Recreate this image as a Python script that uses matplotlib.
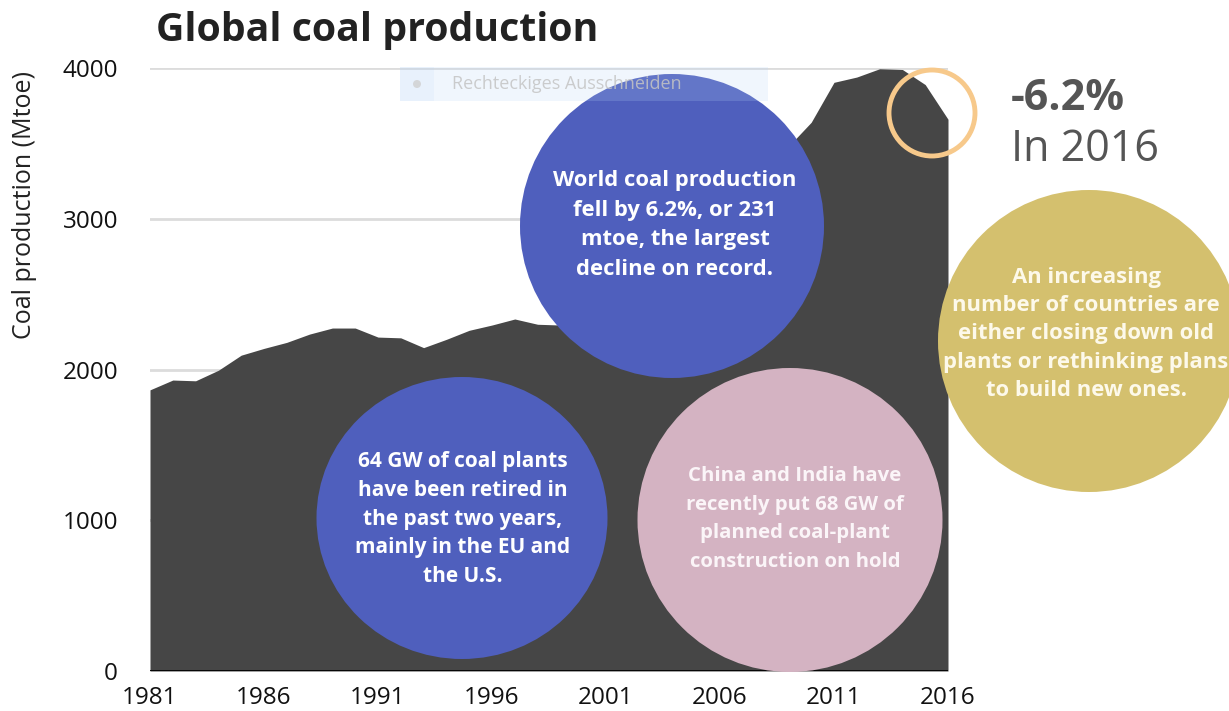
import numpy as np
import matplotlib
matplotlib.use("Agg")
import matplotlib.pyplot as plt
from matplotlib.patches import Ellipse, Rectangle, Circle

# Global coal production, Mtoe
years = np.arange(1981, 2017)
production = [1865, 1930, 1925, 1995, 2095, 2140, 2180, 2235, 2275, 2275,
              2215, 2210, 2145, 2200, 2260, 2295, 2335, 2300, 2295, 2320,
              2430, 2470, 2650, 2880, 3050, 3220, 3350, 3450, 3480, 3640,
              3905, 3940, 3995, 3990, 3890, 3660]
xticks = [1981, 1986, 1991, 1996, 2001, 2006, 2011, 2016]
yticks = [0, 1000, 2000, 3000, 4000]

# annotation bubbles
bubble_texts = [
    "World coal production\nfell by 6.2%, or 231\nmtoe, the largest\ndecline on record.",
    "64 GW of coal plants\nhave been retired in\nthe past two years,\nmainly in the EU and\nthe U.S.",
    "China and India have\nrecently put 68 GW of\nplanned coal-plant\nconstruction on hold",
    "An increasing\nnumber of countries are\neither closing down old\nplants or rethinking plans\nto build new ones.",
]

W, H = 1229, 711
fig = plt.figure(figsize=(W / 100, H / 100), dpi=100)

# main chart axes, placed in pixels
x0, x1, y0, y1 = 150, 948, 671, 68
ax = fig.add_axes([x0 / W, (H - y0) / H, (x1 - x0) / W, (y0 - y1) / H])
ax.fill_between(years, production, 0, color="#464646", lw=0, zorder=2)
ax.set_xlim(1981, 2016)
ax.set_ylim(0, 4000)
ax.set_xticks(xticks)
ax.set_yticks(yticks)
for v in yticks[1:]:
    ax.axhline(v, color="#dcdcdc", lw=2, zorder=1)
ax.axhline(0, color="black", lw=2, zorder=3)
for s in ax.spines.values():
    s.set_visible(False)
ax.tick_params(length=0, labelsize=17.5, colors="#111111")
ax.tick_params(axis="y", pad=23)
ax.tick_params(axis="x", pad=11)
for lab in ax.get_xticklabels() + ax.get_yticklabels():
    lab.set_fontfamily("Open Sans")

# overlay in pixel coordinates for title and bubbles
ov = fig.add_axes([0, 0, 1, 1], zorder=5)
ov.set_xlim(0, W)
ov.set_ylim(H, 0)
ov.axis("off")

ov.text(156, 31, "Global coal production", fontsize=28.3, fontweight="bold",
        family="Open Sans", color="#222222", va="center", ha="left")
ov.text(25, 205, "Coal production (Mtoe)", fontsize=18, family="Open Sans",
        color="#222222", rotation=90, va="center", ha="center")

# bubbles: (cx, cy, w, h, color, text color, fontsize, linespacing)
bubbles = [
    (672, 226, 304, 304, "#4f5fbd", "white", 15.8, 1.56),
    (462, 518, 291, 282, "#4f5fbd", "white", 15, 1.49),
    (790, 520, 305, 304, "#d4b3c2", "#fbf5f8", 14.7, 1.58),
    (1089, 341, 302, 302, "#d4c06e", "#fdf9ea", 15.8, 1.45),
]
for (cx, cy, w, h, fc, tc, fs, lsp), txt in zip(bubbles, bubble_texts):
    ov.add_patch(Ellipse((cx, cy), w, h, facecolor=fc, edgecolor="none"))
ty = [225, 519, 519, 334]
tx = [675, 463, 795, 1086]
for (cx, cy, w, h, fc, tc, fs, lsp), txt, xx, yy in zip(bubbles, bubble_texts, tx, ty):
    ov.text(xx, yy, txt, ha="center", va="center", color=tc, fontsize=fs,
            fontweight="bold", family="Open Sans", linespacing=lsp,
            multialignment="center")

# ring highlighting the 2016 drop
ov.add_patch(Circle((932, 113), 43, facecolor="none", edgecolor="#f7c98b", lw=3.5))
ov.text(1011, 99, "-6.2%", fontsize=31, fontweight="bold", family="Open Sans",
        color="#555555", va="center", ha="left")
ov.text(1011, 150, "In 2016", fontsize=31, family="Open Sans",
        color="#555555", va="center", ha="left")

# leftover screen-clipping tooltip
ov.add_patch(Rectangle((400, 67), 368, 34, facecolor="#b5d3f7", alpha=0.2,
                       edgecolor="none"))
ov.add_patch(Rectangle((400, 67), 34, 34, facecolor="#b5d3f7", alpha=0.12,
                       edgecolor="none"))
ov.add_patch(Circle((417, 84), 4, facecolor="#d0d0d0", edgecolor="none", alpha=0.8))
ov.text(452, 84, "Rechteckiges Ausschneiden", fontsize=13, family="Open Sans",
        color="#c4c4c4", alpha=0.85, va="center", ha="left")

fig.savefig("out.png", dpi=100)
